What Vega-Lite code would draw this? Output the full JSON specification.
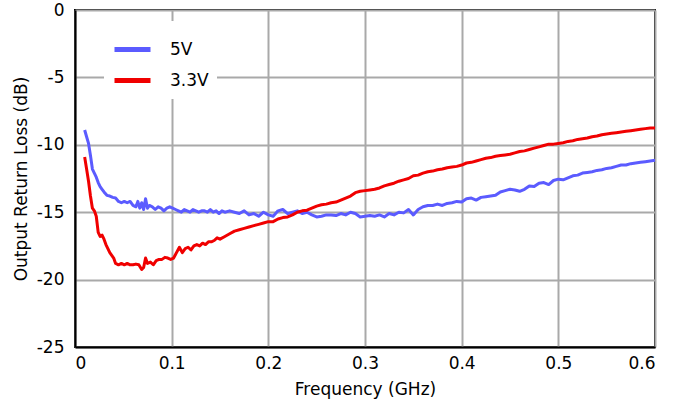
{
  "$schema": "https://vega.github.io/schema/vega-lite/v6.json",
  "width": 580,
  "height": 337,
  "autosize": {"type": "none"},
  "padding": {"left": 75, "top": 10, "right": 30, "bottom": 58},
  "background": "white",
  "config": {
    "font": "DejaVu Sans",
    "view": {"stroke": "black", "strokeWidth": 2},
    "axis": {
      "domainColor": "black",
      "domainWidth": 2,
      "gridColor": "#a9a9a9",
      "gridWidth": 2,
      "gridOpacity": 1,
      "ticks": false,
      "labelFontSize": 17,
      "labelColor": "black",
      "labelFont": "DejaVu Sans",
      "titleFontSize": 17,
      "titleFontWeight": "normal",
      "titleColor": "black",
      "titleFont": "DejaVu Sans"
    }
  },
  "data": {
    "values": [
      {"f": 0.010, "s": "5V", "db": -8.9},
      {"f": 0.012, "s": "5V", "db": -9.4},
      {"f": 0.014, "s": "5V", "db": -9.9},
      {"f": 0.016, "s": "5V", "db": -10.8},
      {"f": 0.018, "s": "5V", "db": -11.8},
      {"f": 0.020, "s": "5V", "db": -12.1},
      {"f": 0.022, "s": "5V", "db": -12.4},
      {"f": 0.024, "s": "5V", "db": -12.8},
      {"f": 0.026, "s": "5V", "db": -13.1},
      {"f": 0.028, "s": "5V", "db": -13.3},
      {"f": 0.030, "s": "5V", "db": -13.5},
      {"f": 0.033, "s": "5V", "db": -13.75},
      {"f": 0.036, "s": "5V", "db": -13.8},
      {"f": 0.039, "s": "5V", "db": -13.9},
      {"f": 0.042, "s": "5V", "db": -13.95},
      {"f": 0.045, "s": "5V", "db": -14.2},
      {"f": 0.048, "s": "5V", "db": -14.3},
      {"f": 0.051, "s": "5V", "db": -14.2},
      {"f": 0.054, "s": "5V", "db": -14.3},
      {"f": 0.057, "s": "5V", "db": -14.2},
      {"f": 0.060, "s": "5V", "db": -14.5},
      {"f": 0.063, "s": "5V", "db": -14.6},
      {"f": 0.065, "s": "5V", "db": -14.2},
      {"f": 0.067, "s": "5V", "db": -14.7},
      {"f": 0.069, "s": "5V", "db": -14.3},
      {"f": 0.071, "s": "5V", "db": -14.8},
      {"f": 0.073, "s": "5V", "db": -14.0},
      {"f": 0.075, "s": "5V", "db": -14.7},
      {"f": 0.077, "s": "5V", "db": -14.5},
      {"f": 0.080, "s": "5V", "db": -14.6},
      {"f": 0.083, "s": "5V", "db": -14.8},
      {"f": 0.086, "s": "5V", "db": -14.6},
      {"f": 0.089, "s": "5V", "db": -14.7},
      {"f": 0.092, "s": "5V", "db": -14.9},
      {"f": 0.095, "s": "5V", "db": -14.7},
      {"f": 0.098, "s": "5V", "db": -14.6},
      {"f": 0.101, "s": "5V", "db": -14.7},
      {"f": 0.104, "s": "5V", "db": -14.8},
      {"f": 0.107, "s": "5V", "db": -14.9},
      {"f": 0.110, "s": "5V", "db": -15.0},
      {"f": 0.113, "s": "5V", "db": -14.8},
      {"f": 0.116, "s": "5V", "db": -14.9},
      {"f": 0.119, "s": "5V", "db": -15.0},
      {"f": 0.122, "s": "5V", "db": -14.8},
      {"f": 0.125, "s": "5V", "db": -14.9},
      {"f": 0.128, "s": "5V", "db": -15.0},
      {"f": 0.131, "s": "5V", "db": -14.9},
      {"f": 0.134, "s": "5V", "db": -14.9},
      {"f": 0.137, "s": "5V", "db": -15.0},
      {"f": 0.140, "s": "5V", "db": -14.8},
      {"f": 0.143, "s": "5V", "db": -15.0},
      {"f": 0.146, "s": "5V", "db": -14.9},
      {"f": 0.149, "s": "5V", "db": -15.1},
      {"f": 0.152, "s": "5V", "db": -14.9},
      {"f": 0.155, "s": "5V", "db": -15.0},
      {"f": 0.160, "s": "5V", "db": -14.9},
      {"f": 0.165, "s": "5V", "db": -15.0},
      {"f": 0.170, "s": "5V", "db": -15.1},
      {"f": 0.175, "s": "5V", "db": -14.9},
      {"f": 0.180, "s": "5V", "db": -15.2},
      {"f": 0.185, "s": "5V", "db": -15.1},
      {"f": 0.190, "s": "5V", "db": -15.3},
      {"f": 0.195, "s": "5V", "db": -15.0},
      {"f": 0.200, "s": "5V", "db": -15.2},
      {"f": 0.205, "s": "5V", "db": -15.3},
      {"f": 0.210, "s": "5V", "db": -14.9},
      {"f": 0.215, "s": "5V", "db": -14.8},
      {"f": 0.220, "s": "5V", "db": -15.1},
      {"f": 0.225, "s": "5V", "db": -15.0},
      {"f": 0.230, "s": "5V", "db": -14.9},
      {"f": 0.235, "s": "5V", "db": -15.1},
      {"f": 0.240, "s": "5V", "db": -15.0},
      {"f": 0.245, "s": "5V", "db": -15.2},
      {"f": 0.250, "s": "5V", "db": -15.35},
      {"f": 0.255, "s": "5V", "db": -15.3},
      {"f": 0.260, "s": "5V", "db": -15.2},
      {"f": 0.265, "s": "5V", "db": -15.2},
      {"f": 0.270, "s": "5V", "db": -15.25},
      {"f": 0.275, "s": "5V", "db": -15.1},
      {"f": 0.280, "s": "5V", "db": -15.2},
      {"f": 0.285, "s": "5V", "db": -15.0},
      {"f": 0.290, "s": "5V", "db": -15.1},
      {"f": 0.295, "s": "5V", "db": -15.35},
      {"f": 0.300, "s": "5V", "db": -15.3},
      {"f": 0.305, "s": "5V", "db": -15.25},
      {"f": 0.310, "s": "5V", "db": -15.3},
      {"f": 0.315, "s": "5V", "db": -15.2},
      {"f": 0.320, "s": "5V", "db": -15.35},
      {"f": 0.325, "s": "5V", "db": -15.1},
      {"f": 0.330, "s": "5V", "db": -15.2},
      {"f": 0.335, "s": "5V", "db": -15.0},
      {"f": 0.340, "s": "5V", "db": -15.05},
      {"f": 0.345, "s": "5V", "db": -14.8},
      {"f": 0.350, "s": "5V", "db": -15.2},
      {"f": 0.355, "s": "5V", "db": -14.8},
      {"f": 0.360, "s": "5V", "db": -14.6},
      {"f": 0.365, "s": "5V", "db": -14.5},
      {"f": 0.370, "s": "5V", "db": -14.5},
      {"f": 0.375, "s": "5V", "db": -14.4},
      {"f": 0.380, "s": "5V", "db": -14.5},
      {"f": 0.385, "s": "5V", "db": -14.35},
      {"f": 0.390, "s": "5V", "db": -14.3},
      {"f": 0.395, "s": "5V", "db": -14.2},
      {"f": 0.400, "s": "5V", "db": -14.25},
      {"f": 0.405, "s": "5V", "db": -14.0},
      {"f": 0.410, "s": "5V", "db": -13.95},
      {"f": 0.415, "s": "5V", "db": -14.1},
      {"f": 0.420, "s": "5V", "db": -13.9},
      {"f": 0.425, "s": "5V", "db": -13.85},
      {"f": 0.430, "s": "5V", "db": -13.8},
      {"f": 0.435, "s": "5V", "db": -13.75},
      {"f": 0.440, "s": "5V", "db": -13.5},
      {"f": 0.445, "s": "5V", "db": -13.4},
      {"f": 0.450, "s": "5V", "db": -13.3},
      {"f": 0.455, "s": "5V", "db": -13.35},
      {"f": 0.460, "s": "5V", "db": -13.45},
      {"f": 0.465, "s": "5V", "db": -13.3},
      {"f": 0.470, "s": "5V", "db": -13.05},
      {"f": 0.475, "s": "5V", "db": -13.1},
      {"f": 0.480, "s": "5V", "db": -12.85},
      {"f": 0.485, "s": "5V", "db": -12.8},
      {"f": 0.490, "s": "5V", "db": -12.95},
      {"f": 0.495, "s": "5V", "db": -12.65},
      {"f": 0.500, "s": "5V", "db": -12.55},
      {"f": 0.505, "s": "5V", "db": -12.6},
      {"f": 0.510, "s": "5V", "db": -12.45},
      {"f": 0.515, "s": "5V", "db": -12.3},
      {"f": 0.520, "s": "5V", "db": -12.25},
      {"f": 0.525, "s": "5V", "db": -12.1},
      {"f": 0.530, "s": "5V", "db": -12.05},
      {"f": 0.535, "s": "5V", "db": -12.0},
      {"f": 0.540, "s": "5V", "db": -11.9},
      {"f": 0.545, "s": "5V", "db": -11.85},
      {"f": 0.550, "s": "5V", "db": -11.75},
      {"f": 0.555, "s": "5V", "db": -11.7},
      {"f": 0.560, "s": "5V", "db": -11.6},
      {"f": 0.565, "s": "5V", "db": -11.5},
      {"f": 0.570, "s": "5V", "db": -11.5},
      {"f": 0.575, "s": "5V", "db": -11.4},
      {"f": 0.580, "s": "5V", "db": -11.35},
      {"f": 0.585, "s": "5V", "db": -11.3},
      {"f": 0.590, "s": "5V", "db": -11.25},
      {"f": 0.595, "s": "5V", "db": -11.2},
      {"f": 0.600, "s": "5V", "db": -11.15},

      {"f": 0.010, "s": "3.3V", "db": -10.9},
      {"f": 0.012, "s": "3.3V", "db": -11.8},
      {"f": 0.014, "s": "3.3V", "db": -12.7},
      {"f": 0.016, "s": "3.3V", "db": -13.8},
      {"f": 0.018, "s": "3.3V", "db": -14.7},
      {"f": 0.020, "s": "3.3V", "db": -14.9},
      {"f": 0.022, "s": "3.3V", "db": -15.3},
      {"f": 0.024, "s": "3.3V", "db": -16.5},
      {"f": 0.026, "s": "3.3V", "db": -16.8},
      {"f": 0.028, "s": "3.3V", "db": -16.7},
      {"f": 0.030, "s": "3.3V", "db": -17.0},
      {"f": 0.032, "s": "3.3V", "db": -17.4},
      {"f": 0.034, "s": "3.3V", "db": -17.7},
      {"f": 0.036, "s": "3.3V", "db": -18.0},
      {"f": 0.038, "s": "3.3V", "db": -18.2},
      {"f": 0.040, "s": "3.3V", "db": -18.4},
      {"f": 0.042, "s": "3.3V", "db": -18.8},
      {"f": 0.045, "s": "3.3V", "db": -18.9},
      {"f": 0.048, "s": "3.3V", "db": -18.8},
      {"f": 0.051, "s": "3.3V", "db": -18.9},
      {"f": 0.054, "s": "3.3V", "db": -18.8},
      {"f": 0.057, "s": "3.3V", "db": -18.9},
      {"f": 0.060, "s": "3.3V", "db": -18.9},
      {"f": 0.063, "s": "3.3V", "db": -18.85},
      {"f": 0.066, "s": "3.3V", "db": -18.9},
      {"f": 0.069, "s": "3.3V", "db": -19.25},
      {"f": 0.071, "s": "3.3V", "db": -19.1},
      {"f": 0.073, "s": "3.3V", "db": -18.4},
      {"f": 0.075, "s": "3.3V", "db": -18.8},
      {"f": 0.078, "s": "3.3V", "db": -18.7},
      {"f": 0.081, "s": "3.3V", "db": -18.9},
      {"f": 0.084, "s": "3.3V", "db": -18.6},
      {"f": 0.087, "s": "3.3V", "db": -18.5},
      {"f": 0.090, "s": "3.3V", "db": -18.5},
      {"f": 0.093, "s": "3.3V", "db": -18.35},
      {"f": 0.096, "s": "3.3V", "db": -18.4},
      {"f": 0.099, "s": "3.3V", "db": -18.5},
      {"f": 0.102, "s": "3.3V", "db": -18.4},
      {"f": 0.105, "s": "3.3V", "db": -18.0},
      {"f": 0.108, "s": "3.3V", "db": -17.6},
      {"f": 0.111, "s": "3.3V", "db": -18.0},
      {"f": 0.114, "s": "3.3V", "db": -17.7},
      {"f": 0.117, "s": "3.3V", "db": -17.6},
      {"f": 0.120, "s": "3.3V", "db": -17.8},
      {"f": 0.123, "s": "3.3V", "db": -17.5},
      {"f": 0.126, "s": "3.3V", "db": -17.4},
      {"f": 0.129, "s": "3.3V", "db": -17.5},
      {"f": 0.132, "s": "3.3V", "db": -17.3},
      {"f": 0.135, "s": "3.3V", "db": -17.4},
      {"f": 0.138, "s": "3.3V", "db": -17.2},
      {"f": 0.141, "s": "3.3V", "db": -17.2},
      {"f": 0.144, "s": "3.3V", "db": -17.1},
      {"f": 0.147, "s": "3.3V", "db": -16.9},
      {"f": 0.150, "s": "3.3V", "db": -17.0},
      {"f": 0.155, "s": "3.3V", "db": -16.8},
      {"f": 0.160, "s": "3.3V", "db": -16.6},
      {"f": 0.165, "s": "3.3V", "db": -16.4},
      {"f": 0.170, "s": "3.3V", "db": -16.3},
      {"f": 0.175, "s": "3.3V", "db": -16.2},
      {"f": 0.180, "s": "3.3V", "db": -16.1},
      {"f": 0.185, "s": "3.3V", "db": -16.0},
      {"f": 0.190, "s": "3.3V", "db": -15.9},
      {"f": 0.195, "s": "3.3V", "db": -15.8},
      {"f": 0.200, "s": "3.3V", "db": -15.7},
      {"f": 0.205, "s": "3.3V", "db": -15.7},
      {"f": 0.210, "s": "3.3V", "db": -15.5},
      {"f": 0.215, "s": "3.3V", "db": -15.4},
      {"f": 0.220, "s": "3.3V", "db": -15.35},
      {"f": 0.225, "s": "3.3V", "db": -15.2},
      {"f": 0.230, "s": "3.3V", "db": -15.0},
      {"f": 0.235, "s": "3.3V", "db": -14.9},
      {"f": 0.240, "s": "3.3V", "db": -14.85},
      {"f": 0.245, "s": "3.3V", "db": -14.7},
      {"f": 0.250, "s": "3.3V", "db": -14.55},
      {"f": 0.255, "s": "3.3V", "db": -14.45},
      {"f": 0.260, "s": "3.3V", "db": -14.4},
      {"f": 0.265, "s": "3.3V", "db": -14.3},
      {"f": 0.270, "s": "3.3V", "db": -14.25},
      {"f": 0.275, "s": "3.3V", "db": -14.1},
      {"f": 0.280, "s": "3.3V", "db": -13.95},
      {"f": 0.285, "s": "3.3V", "db": -13.8},
      {"f": 0.290, "s": "3.3V", "db": -13.55},
      {"f": 0.295, "s": "3.3V", "db": -13.45},
      {"f": 0.300, "s": "3.3V", "db": -13.4},
      {"f": 0.305, "s": "3.3V", "db": -13.35},
      {"f": 0.310, "s": "3.3V", "db": -13.3},
      {"f": 0.315, "s": "3.3V", "db": -13.2},
      {"f": 0.320, "s": "3.3V", "db": -13.05},
      {"f": 0.325, "s": "3.3V", "db": -12.95},
      {"f": 0.330, "s": "3.3V", "db": -12.85},
      {"f": 0.335, "s": "3.3V", "db": -12.7},
      {"f": 0.340, "s": "3.3V", "db": -12.6},
      {"f": 0.345, "s": "3.3V", "db": -12.5},
      {"f": 0.350, "s": "3.3V", "db": -12.3},
      {"f": 0.355, "s": "3.3V", "db": -12.25},
      {"f": 0.360, "s": "3.3V", "db": -12.1},
      {"f": 0.365, "s": "3.3V", "db": -12.0},
      {"f": 0.370, "s": "3.3V", "db": -11.95},
      {"f": 0.375, "s": "3.3V", "db": -11.85},
      {"f": 0.380, "s": "3.3V", "db": -11.8},
      {"f": 0.385, "s": "3.3V", "db": -11.7},
      {"f": 0.390, "s": "3.3V", "db": -11.65},
      {"f": 0.395, "s": "3.3V", "db": -11.6},
      {"f": 0.400, "s": "3.3V", "db": -11.5},
      {"f": 0.405, "s": "3.3V", "db": -11.35},
      {"f": 0.410, "s": "3.3V", "db": -11.3},
      {"f": 0.415, "s": "3.3V", "db": -11.2},
      {"f": 0.420, "s": "3.3V", "db": -11.1},
      {"f": 0.425, "s": "3.3V", "db": -11.0},
      {"f": 0.430, "s": "3.3V", "db": -10.95},
      {"f": 0.435, "s": "3.3V", "db": -10.85},
      {"f": 0.440, "s": "3.3V", "db": -10.8},
      {"f": 0.445, "s": "3.3V", "db": -10.75},
      {"f": 0.450, "s": "3.3V", "db": -10.7},
      {"f": 0.455, "s": "3.3V", "db": -10.6},
      {"f": 0.460, "s": "3.3V", "db": -10.5},
      {"f": 0.465, "s": "3.3V", "db": -10.45},
      {"f": 0.470, "s": "3.3V", "db": -10.35},
      {"f": 0.475, "s": "3.3V", "db": -10.25},
      {"f": 0.480, "s": "3.3V", "db": -10.15},
      {"f": 0.485, "s": "3.3V", "db": -10.05},
      {"f": 0.490, "s": "3.3V", "db": -9.95},
      {"f": 0.495, "s": "3.3V", "db": -9.95},
      {"f": 0.500, "s": "3.3V", "db": -9.9},
      {"f": 0.505, "s": "3.3V", "db": -9.85},
      {"f": 0.510, "s": "3.3V", "db": -9.75},
      {"f": 0.515, "s": "3.3V", "db": -9.7},
      {"f": 0.520, "s": "3.3V", "db": -9.6},
      {"f": 0.525, "s": "3.3V", "db": -9.55},
      {"f": 0.530, "s": "3.3V", "db": -9.5},
      {"f": 0.535, "s": "3.3V", "db": -9.4},
      {"f": 0.540, "s": "3.3V", "db": -9.35},
      {"f": 0.545, "s": "3.3V", "db": -9.25},
      {"f": 0.550, "s": "3.3V", "db": -9.2},
      {"f": 0.555, "s": "3.3V", "db": -9.15},
      {"f": 0.560, "s": "3.3V", "db": -9.1},
      {"f": 0.565, "s": "3.3V", "db": -9.05},
      {"f": 0.570, "s": "3.3V", "db": -9.0},
      {"f": 0.575, "s": "3.3V", "db": -8.95},
      {"f": 0.580, "s": "3.3V", "db": -8.9},
      {"f": 0.585, "s": "3.3V", "db": -8.85},
      {"f": 0.590, "s": "3.3V", "db": -8.8},
      {"f": 0.595, "s": "3.3V", "db": -8.75},
      {"f": 0.600, "s": "3.3V", "db": -8.75}
    ]
  },
  "mark": {"type": "line", "strokeWidth": 3, "strokeJoin": "round"},
  "encoding": {
    "x": {
      "field": "f",
      "type": "quantitative",
      "title": "Frequency (GHz)",
      "scale": {"domain": [0, 0.6], "nice": false, "zero": false},
      "axis": {
        "values": [0, 0.1, 0.2, 0.3, 0.4, 0.5, 0.6],
        "labelExpr": "datum.value == 0 ? '0' : format(datum.value, '.1f')",
        "labelPadding": 8,
        "titlePadding": 10
      }
    },
    "y": {
      "field": "db",
      "type": "quantitative",
      "title": "Output Return Loss (dB)",
      "scale": {"domain": [-25, 0], "nice": false},
      "axis": {
        "values": [-25, -20, -15, -10, -5, 0],
        "labelExpr": "toString(datum.value)",
        "labelPadding": 11,
        "titlePadding": 6
      }
    },
    "color": {
      "field": "s",
      "type": "nominal",
      "sort": ["5V", "3.3V"],
      "scale": {"domain": ["5V", "3.3V"], "range": ["#5b5bff", "#f00000"]},
      "legend": {
        "title": null,
        "orient": "none",
        "legendX": 29,
        "legendY": 11,
        "fillColor": "white",
        "padding": 8,
        "symbolType": "stroke",
        "symbolSize": 1296,
        "symbolStrokeWidth": 5,
        "labelFontSize": 17,
        "labelColor": "black",
        "labelFont": "DejaVu Sans",
        "labelOffset": 17,
        "rowPadding": -11
      }
    }
  }
}
